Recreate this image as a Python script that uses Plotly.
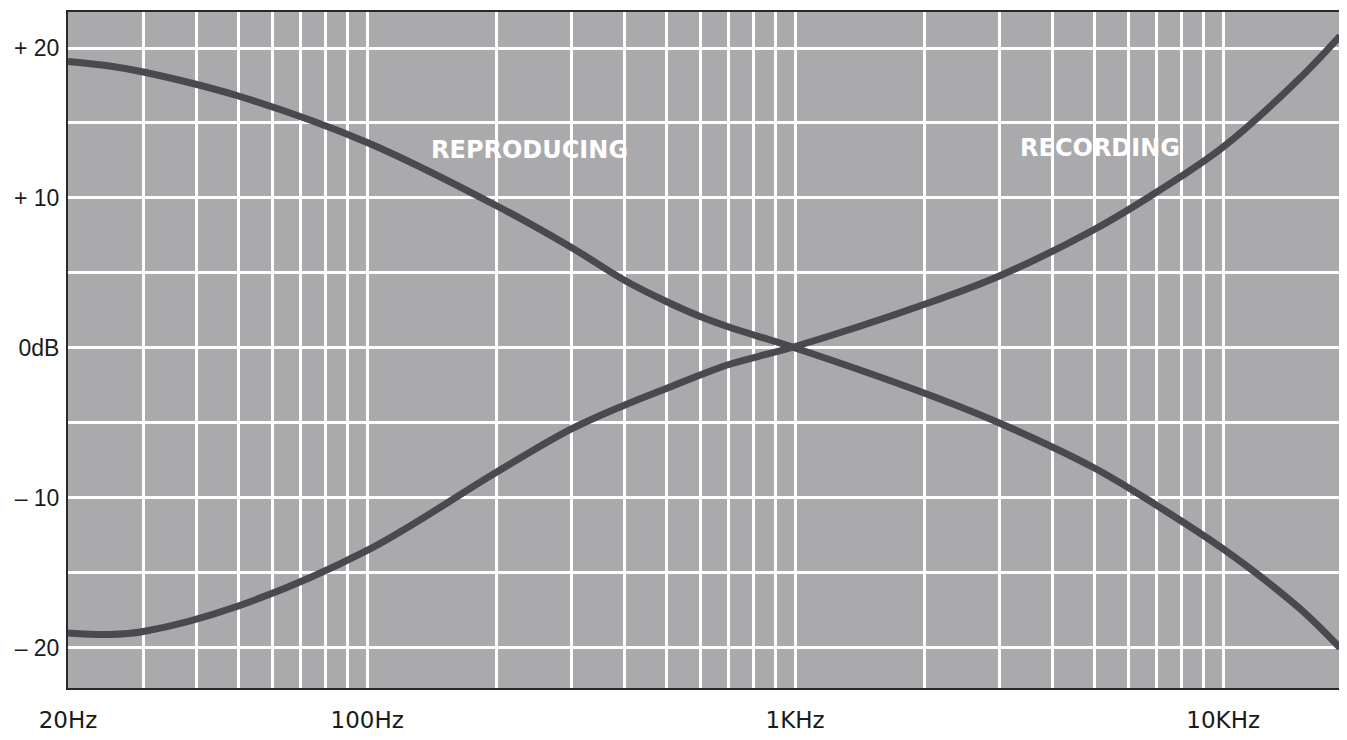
import plotly.graph_objects as go
import math

# ---- data ----
freq_hz = [20, 25, 30, 50, 100, 200, 300, 400, 500, 600, 700, 1000, 2000, 3000, 5000,
           7000, 10000, 15000, 18750]
reproducing_db = [19.1, 18.8, 18.4, 16.8, 13.7, 9.5, 6.7, 4.5, 3.1, 2.1, 1.4, 0.0,
                  -3.0, -5.0, -8.0, -10.5, -13.4, -17.3, -20.0]
recording_db = [-19.0, -19.1, -18.9, -17.2, -13.5, -8.3, -5.4, -3.8, -2.7, -1.8, -1.1,
                0.1, 2.9, 4.8, 7.9, 10.4, 13.4, 17.9, 20.8]

x_tick_vals = [20, 100, 1000, 10000]
x_tick_text = ["20Hz", "100Hz", "1KHz", "10KHz"]
x_grid_vals = [30, 40, 50, 60, 70, 80, 90,
               200, 300, 400, 500, 600, 700, 800, 900,
               2000, 3000, 4000, 5000, 6000, 7000, 8000, 9000]
y_tick_vals = [20, 10, 0, -10, -20]
y_tick_text = ["+ 20", "+ 10", "0dB", "– 10", "– 20"]
y_grid_vals = [15, 5, -5, -15]

curve_labels = ["REPRODUCING", "RECORDING"]
label_freq = [240, 5150]
label_db = [13.2, 13.3]

BG = "#aaaaac"
CURVE = "#4a4a4e"
FONT = "DejaVu Sans"
YFONT = "Liberation Sans"

fig = go.Figure()
fig.add_trace(go.Scatter(x=freq_hz, y=reproducing_db, mode="lines",
                         line=dict(color=CURVE, width=7, shape="spline", smoothing=1.0),
                         name="Reproducing", hoverinfo="skip"))
fig.add_trace(go.Scatter(x=freq_hz, y=recording_db, mode="lines",
                         line=dict(color=CURVE, width=7, shape="spline", smoothing=1.0),
                         name="Recording", hoverinfo="skip"))

for txt, fx, fy in zip(curve_labels, label_freq, label_db):
    fig.add_annotation(x=math.log10(fx), y=fy, text=txt, showarrow=False,
                       font=dict(family=FONT, size=24, color="white", weight="bold"),
                       xanchor="center", yanchor="middle")

# page body has an 8px default margin; size/margins compensate for it
fig.update_layout(
    width=1339, height=732,
    margin=dict(l=60, r=7, t=4, b=52),
    paper_bgcolor="white",
    plot_bgcolor=BG,
    showlegend=False,
    xaxis=dict(
        type="log", range=[math.log10(20), 4.273], automargin=False,
        tickmode="array", tickvals=x_tick_vals, ticktext=x_tick_text,
        showgrid=True, gridcolor="white", gridwidth=3,
        minor=dict(tickmode="array", tickvals=x_grid_vals, showgrid=True,
                   gridcolor="white", gridwidth=3, ticks=""),
        showline=True, linecolor="#2a2a2a", linewidth=2, mirror=True,
        ticks="", ticklabelstandoff=10, zeroline=False,
        tickfont=dict(family=FONT, size=23, color="#1a1a1a"),
    ),
    yaxis=dict(
        range=[-22.67, 22.4], automargin=False,
        tickmode="array", tickvals=y_tick_vals, ticktext=y_tick_text,
        showgrid=True, gridcolor="white", gridwidth=3,
        minor=dict(tickmode="array", tickvals=y_grid_vals, showgrid=True,
                   gridcolor="white", gridwidth=3, ticks=""),
        showline=True, linecolor="#2a2a2a", linewidth=2, mirror=True,
        ticks="", ticklabelstandoff=2, zeroline=False,
        tickfont=dict(family=YFONT, size=23, color="#1a1a1a"),
    ),
)

fig.write_html("out.html")
